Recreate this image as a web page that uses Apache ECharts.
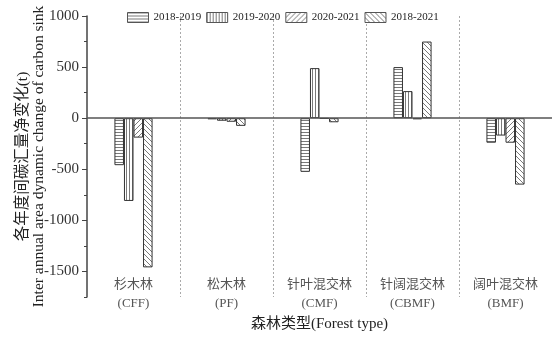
<!DOCTYPE html>
<html>
<head>
<meta charset="utf-8">
<script src="https://cdn.jsdelivr.net/npm/echarts@6/dist/echarts.min.js"></script>
<style>
  html, body { margin: 0; padding: 0; background: #fff; }
  #chart { width: 556px; height: 339px; }
</style>
</head>
<body>
<div id="chart"></div>
<script>
// 数据
var categories = ['杉木林\n(CFF)', '松木林\n(PF)', '针叶混交林\n(CMF)', '针阔混交林\n(CBMF)', '阔叶混交林\n(BMF)'];
var periods = ['2018-2019', '2019-2020', '2020-2021', '2018-2021'];
var v2018_2019 = [-460, -10, -525, 500, -240];
var v2019_2020 = [-810, -25, 490, 265, -170];
var v2020_2021 = [-190, -35, -5, -10, -240];
var v2018_2021 = [-1460, -75, -40, 750, -650];
var yTicks = [-1500, -1000, -500, 0, 500, 1000];

var serif = '"Liberation Serif", "Noto Sans CJK SC", serif';

// 填充纹理
function hatch(kind) {
    var c = document.createElement('canvas');
    var s = kind === 'h' || kind === 'v' ? 3 : 5;
    c.width = s; c.height = s;
    var g = c.getContext('2d');
    g.fillStyle = '#fff';
    g.fillRect(0, 0, s, s);
    g.strokeStyle = '#7a7a7a';
    g.lineWidth = 1;
    g.beginPath();
    if (kind === 'h') { g.moveTo(0, 0.5); g.lineTo(s, 0.5); }
    else if (kind === 'v') { g.moveTo(0.5, 0); g.lineTo(0.5, s); }
    else if (kind === 'f') {
        g.moveTo(-1, 1); g.lineTo(1, -1);
        g.moveTo(0, s); g.lineTo(s, 0);
        g.moveTo(s - 1, s + 1); g.lineTo(s + 1, s - 1);
    } else {
        g.moveTo(-1, s - 1); g.lineTo(1, s + 1);
        g.moveTo(0, 0); g.lineTo(s, s);
        g.moveTo(s - 1, -1); g.lineTo(s + 1, 1);
    }
    g.stroke();
    return { image: c, repeat: 'repeat' };
}

var patterns = [hatch('h'), hatch('v'), hatch('f'), hatch('b')];
var seriesValues = [v2018_2019, v2019_2020, v2020_2021, v2018_2021];

var chart = echarts.init(document.getElementById('chart'));
var series = seriesValues.map(function (vals, i) {
    var s = {
        name: periods[i],
        type: 'bar',
        data: vals,
        barGap: '0%',
        barCategoryGap: '59%',
        itemStyle: { color: patterns[i], borderColor: '#333', borderWidth: 1 },
        emphasis: { disabled: true },
        animation: false
    };
    if (i === 0) {
        // 零线
        s.markLine = {
            silent: true,
            symbol: 'none',
            label: { show: false },
            lineStyle: { color: '#555', width: 1.5, type: 'solid' },
            data: [{ yAxis: 0 }]
        };
    }
    return s;
});

var option = {
    animation: false,
    legend: {
        left: 122,
        top: 7,
        icon: 'rect',
        itemWidth: 21,
        itemHeight: 10,
        itemGap: 5,
        itemStyle: { borderWidth: 1, borderColor: '#555' },
        textStyle: { fontFamily: serif, fontSize: 11, color: '#222' },
        data: periods
    },
    grid: { left: 87, right: 4, top: 16, bottom: 42, outerBoundsMode: 'none' },
    xAxis: {
        type: 'category',
        data: categories,
        axisLine: { show: false },
        axisTick: { show: false },
        axisLabel: {
            margin: -22,
            lineHeight: 19,
            fontFamily: serif,
            fontSize: 13,
            color: '#555'
        },
        splitLine: {
            show: true,
            showMinLine: false,
            showMaxLine: false,
            lineStyle: { color: '#aaa', type: [2, 2], width: 1 }
        },
        name: '森林类型(Forest type)',
        nameLocation: 'middle',
        nameGap: 20,
        nameMoveOverlap: false,
        nameTextStyle: { fontFamily: serif, fontSize: 15, color: '#222' }
    },
    yAxis: [{
        type: 'value',
        min: -1750,
        max: 1000,
        interval: 250,
        axisLine: { show: true, lineStyle: { color: '#444', width: 1.5 } },
        axisTick: { show: true, length: 3, lineStyle: { color: '#444' } },
        splitLine: { show: false },
        axisLabel: {
            margin: 8,
            fontFamily: serif,
            fontSize: 15,
            color: '#333',
            formatter: function (v) { return yTicks.indexOf(v) >= 0 ? String(v) : ''; }
        },
        name: '各年度间碳汇量净变化(t)\nInter annual area dynamic change of carbon sink',
        nameLocation: 'middle',
        nameRotate: 90,
        nameGap: 40,
        nameMoveOverlap: false,
        nameTextStyle: { fontFamily: serif, fontSize: 15.5, color: '#222', lineHeight: 16 }
    }, {
        type: 'value',
        position: 'left',
        min: -1750,
        max: 1000,
        interval: 250,
        axisLine: { show: false },
        axisTick: { show: true, length: 5, customValues: yTicks, lineStyle: { color: '#444' } },
        axisLabel: { show: false },
        splitLine: { show: false }
    }],
    series: series
};
chart.setOption(option);
</script>
</body>
</html>
